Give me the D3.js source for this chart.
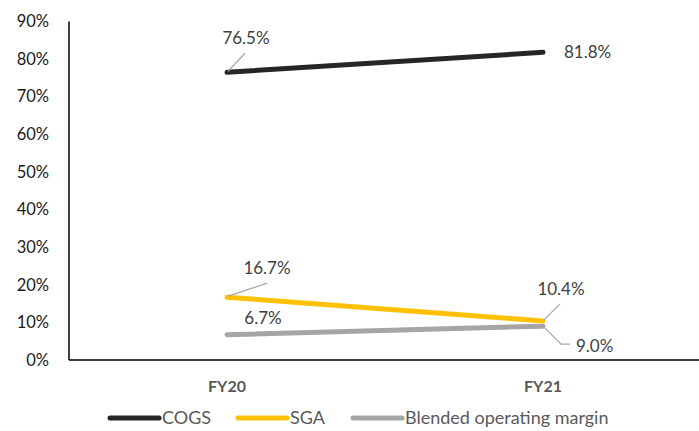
<!DOCTYPE html>
<html><head><meta charset="utf-8">
<script src="https://cdn.jsdelivr.net/npm/d3@7"></script>
<style>body{margin:0;background:#fff}svg{display:block;font-family:Lato,"Open Sans",sans-serif}</style>
</head><body><svg id="c" width="699" height="431"></svg>
<script>
const categories = ["FY20","FY21"];
const cogs = [76.5, 81.8];
const sga = [16.7, 10.4];
const blended = [6.7, 9.0];
const yTicks = [0,10,20,30,40,50,60,70,80,90];
const seriesNames = ["COGS","SGA","Blended operating margin"];
const colors = ["#262626","#FFC000","#A5A5A5"];

const svg = d3.select("#c");
const x = d3.scalePoint().domain(categories).range([69,701]).padding(0.5);
const y = d3.scaleLinear().domain([0,90]).range([360,21.5]);

// axes
svg.append("line").attr("x1",69).attr("x2",69).attr("y1",y(90)).attr("y2",y(0)).attr("stroke","#000").attr("stroke-width",1.5);
svg.append("line").attr("x1",69).attr("x2",699).attr("y1",y(0)).attr("y2",y(0)).attr("stroke","#000").attr("stroke-width",1.5);
svg.selectAll(".yt").data(yTicks).enter().append("text")
  .attr("x",49).attr("y",d=>y(d)).attr("dy","0.35em").attr("text-anchor","end")
  .attr("font-size",16.5).attr("fill","#1a1a1a").text(d=>d+"%");
svg.selectAll(".xt").data(categories).enter().append("text")
  .attr("x",d=>x(d)).attr("y",386).attr("dy","0.35em").attr("text-anchor","middle")
  .attr("font-size",16).attr("font-weight","bold").attr("fill","#595959").text(d=>d);

const data = [cogs, sga, blended];
const line = d3.line().x((d,i)=>x(categories[i])).y(d=>y(d));
[2,1,0].forEach(k=>{
  svg.append("path").datum(data[k]).attr("d",line).attr("fill","none")
    .attr("stroke",colors[k]).attr("stroke-width",5).attr("stroke-linecap","round");
});

const lab = (txt, tx, ty, anchor) => svg.append("text").attr("x",tx).attr("y",ty).attr("dy","0.35em")
  .attr("text-anchor",anchor||"middle").attr("font-size",17).attr("fill","#404040").text(txt);
const leader = pts => svg.append("polyline").attr("points",pts.map(p=>p.join(",")).join(" "))
  .attr("fill","none").attr("stroke","#A5A5A5").attr("stroke-width",1.2);
const fmt = v => v.toFixed(1)+"%";
const x0 = x(categories[0]), x1 = x(categories[1]);

leader([[x0+1,y(cogs[0])-1],[x0+18,y(cogs[0])-19]]);
lab(fmt(cogs[0]), x0+19, 38);
lab(fmt(cogs[1]), x1+21, y(cogs[1]), "start");
leader([[x0+1,y(sga[0])-1],[x0+40,y(sga[0])-14]]);
lab(fmt(sga[0]), x0+40, 268);
lab(fmt(blended[0]), x0+36, 318);
leader([[x1+1,y(sga[1])-1],[x1+17,y(sga[1])-17]]);
lab(fmt(sga[1]), x1+18, 289);
leader([[x1+1,y(blended[1])+1],[x1+18,y(blended[1])+18],[x1+27,y(blended[1])+18]]);
lab(fmt(blended[1]), x1+33, 346, "start");

// legend
const legX = [110, 238, 353];
seriesNames.forEach((n,i)=>{
  svg.append("line").attr("x1",legX[i]).attr("x2",legX[i]+49).attr("y1",418).attr("y2",418)
    .attr("stroke",colors[i]).attr("stroke-width",5).attr("stroke-linecap","round");
  svg.append("text").attr("x",legX[i]+52).attr("y",418).attr("dy","0.35em").attr("font-size",18)
    .attr("fill","#595959").text(n);
});
</script></body></html>
